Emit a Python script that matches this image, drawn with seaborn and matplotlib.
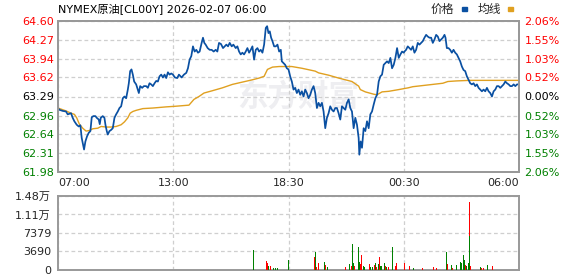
import numpy as np
import pandas as pd
import matplotlib
matplotlib.use("Agg")
import matplotlib.pyplot as plt
from matplotlib.patches import Rectangle
import seaborn as sns

# ---------------- data ----------------
title = "NYMEX原油[CL00Y] 2026-02-07 06:00"
time_labels = ["07:00", "13:00", "18:30", "00:30", "06:00"]
time_ticks = [0, 345, 690, 1035, 1380]

price_ticks = [61.98, 62.31, 62.64, 62.96, 63.29, 63.62, 63.94, 64.27, 64.60]
price_labels = ["61.98", "62.31", "62.64", "62.96", "63.29", "63.62", "63.94", "64.27", "64.60"]
pct_labels = ["2.06%", "1.55%", "1.03%", "0.52%", "0.00%", "0.52%", "1.03%", "1.55%", "2.06%"]
prev_close = 63.29

vol_ticks = [0, 3690, 7379, 11069, 14758]
vol_labels = ["0", "3690", "7379", "1.11万", "1.48万"]

price_min = [
    0, 4, 14, 24, 29, 39, 44, 49, 56, 62,
    67, 71, 74, 78, 82, 87, 92, 97, 101, 106,
    112, 116, 122, 125, 128, 134, 139, 142, 146, 149,
    154, 159, 164, 169, 174, 179, 184, 189, 194, 199,
    204, 209, 212, 216, 220, 224, 228, 234, 239, 242,
    246, 252, 257, 264, 269, 274, 279, 284, 289, 294,
    299, 304, 309, 314, 319, 324, 329, 334, 339, 344,
    350, 357, 362, 370, 377, 384, 389, 394, 399, 404,
    409, 414, 419, 424, 430, 434, 438, 442, 448, 454,
    460, 466, 472, 477, 482, 488, 494, 499, 504, 509,
    514, 520, 525, 532, 537, 542, 547, 552, 557, 562,
    567, 572, 577, 582, 587, 592, 597, 602, 607, 612,
    617, 622, 626, 630, 634, 638, 642, 647, 652, 657,
    662, 667, 670, 675, 680, 685, 690, 695, 700, 705,
    710, 715, 720, 725, 730, 735, 740, 745, 750, 755,
    760, 765, 770, 775, 780, 785, 790, 795, 800, 805,
    810, 815, 820, 825, 830, 835, 840, 845, 850, 855,
    860, 865, 870, 875, 880, 885, 890, 895, 900, 902,
    906, 910, 915, 920, 925, 930, 935, 940, 945, 950,
    955, 960, 965, 970, 975, 980, 985, 990, 995, 1000,
    1005, 1010, 1015, 1020, 1025, 1030, 1035, 1037, 1042, 1047,
    1052, 1057, 1062, 1067, 1072, 1077, 1082, 1087, 1092, 1097,
    1102, 1107, 1112, 1117, 1122, 1127, 1132, 1137, 1142, 1147,
    1152, 1157, 1160, 1164, 1169, 1174, 1179, 1184, 1189, 1194,
    1199, 1204, 1209, 1214, 1219, 1224, 1229, 1234, 1239, 1244,
    1249, 1254, 1259, 1264, 1269, 1274, 1279, 1284, 1289, 1294,
    1299, 1304, 1309, 1314, 1319, 1324, 1329, 1334, 1339, 1344,
    1349, 1354, 1359, 1364, 1369, 1374, 1380,
]
price_val = [
    63.09, 63.06, 63.04, 63.03, 62.98, 63.00, 62.92, 62.86, 62.80, 62.77,
    62.79, 62.57, 62.48, 62.37, 62.51, 62.60, 62.66, 62.69, 62.93, 62.95,
    62.95, 62.92, 62.89, 62.81, 62.92, 62.95, 62.92, 62.80, 62.69, 62.63,
    62.69, 62.71, 62.74, 62.92, 62.98, 63.03, 63.09, 63.12, 63.26, 63.29,
    63.26, 63.41, 63.52, 63.73, 63.76, 63.67, 63.55, 63.50, 63.41, 63.35,
    63.47, 63.44, 63.47, 63.47, 63.44, 63.52, 63.50, 63.47, 63.52, 63.56,
    63.55, 63.64, 63.67, 63.62, 63.67, 63.61, 63.71, 63.67, 63.69, 63.67,
    63.62, 63.61, 63.67, 63.62, 63.67, 63.70, 63.78, 63.93, 63.99, 64.16,
    64.07, 64.10, 64.05, 64.07, 64.22, 64.31, 64.22, 64.19, 64.13, 64.10,
    64.10, 64.07, 64.10, 64.07, 64.22, 64.20, 64.13, 64.16, 64.19, 64.16,
    64.22, 64.16, 64.19, 64.13, 64.16, 64.07, 64.02, 64.05, 64.02, 64.07,
    64.13, 64.05, 64.10, 64.16, 63.93, 64.10, 64.13, 64.07, 64.10, 64.05,
    64.19, 64.48, 64.51, 64.39, 64.42, 64.31, 64.25, 64.16, 64.16, 64.19,
    64.07, 64.10, 63.90, 63.87, 63.84, 63.78, 63.76, 63.64, 63.55, 63.41,
    63.44, 63.35, 63.41, 63.32, 63.38, 63.29, 63.41, 63.35, 63.26, 63.32,
    63.41, 63.47, 63.35, 63.09, 63.18, 63.12, 63.18, 63.03, 62.74, 62.92,
    63.00, 63.12, 63.06, 63.03, 63.09, 63.09, 63.00, 62.89, 63.12, 63.09,
    63.06, 63.18, 63.24, 63.09, 63.03, 62.74, 62.92, 62.80, 62.57, 62.28,
    62.51, 62.40, 62.74, 62.69, 62.86, 62.74, 62.98, 63.03, 63.15, 63.26,
    63.32, 63.55, 63.64, 63.67, 63.84, 63.87, 63.90, 63.87, 63.96, 63.78,
    63.84, 63.96, 64.13, 63.96, 64.02, 64.07, 64.05, 64.07, 64.10, 64.16,
    64.13, 64.10, 64.16, 64.05, 64.10, 64.22, 64.19, 64.22, 64.25, 64.31,
    64.36, 64.33, 64.31, 64.31, 64.22, 64.28, 64.36, 64.33, 64.25, 64.28,
    64.31, 64.36, 64.31, 64.13, 64.13, 64.10, 64.05, 64.10, 64.05, 64.02,
    63.96, 63.90, 63.81, 63.75, 63.73, 63.64, 63.58, 63.52, 63.50, 63.52,
    63.47, 63.50, 63.44, 63.41, 63.38, 63.41, 63.38, 63.44, 63.38, 63.35,
    63.29, 63.38, 63.41, 63.47, 63.47, 63.44, 63.47, 63.50, 63.55, 63.52,
    63.50, 63.47, 63.47, 63.50, 63.47, 63.50, 63.50,
]

avg_min = [
    0, 24, 39, 49, 56, 64, 74, 84, 94, 104,
    119, 129, 144, 159, 174, 189, 199, 209, 216, 224,
    234, 254, 284, 304, 324, 350, 392, 407, 422, 437,
    462, 492, 522, 552, 582, 602, 617, 627, 642, 662,
    700, 730, 770, 780, 810, 840, 880, 900, 905, 920,
    945, 955, 970, 990, 1020, 1048, 1062, 1092, 1122, 1152,
    1167, 1192, 1232, 1380,
]
avg_val = [
    63.09, 63.04, 63.00, 62.98, 62.92, 62.81, 62.74, 62.69, 62.70, 62.73,
    62.74, 62.77, 62.76, 62.76, 62.77, 62.80, 62.85, 62.92, 63.00, 63.03,
    63.05, 63.08, 63.09, 63.10, 63.11, 63.12, 63.14, 63.24, 63.29, 63.35,
    63.39, 63.44, 63.50, 63.54, 63.58, 63.61, 63.64, 63.76, 63.80, 63.81,
    63.81, 63.78, 63.73, 63.70, 63.66, 63.61, 63.55, 63.47, 63.41, 63.37,
    63.33, 63.32, 63.37, 63.38, 63.41, 63.44, 63.46, 63.48, 63.50, 63.52,
    63.55, 63.56, 63.57, 63.57,
]

vol_min = [
    586, 623, 626, 631, 636, 646, 651, 656, 691, 769,
    772, 775, 781, 799, 801, 808, 862, 873, 879, 883,
    886, 889, 901, 903, 906, 910, 914, 918, 931, 936,
    940, 946, 949, 953, 959, 961, 964, 968, 976, 979,
    983, 989, 1000, 1011, 1014, 1038, 1052, 1063, 1091, 1123,
    1132, 1164, 1166, 1178, 1181, 1192, 1206, 1209, 1213, 1216,
    1219, 1223, 1228, 1231, 1232, 1234, 1264, 1268, 1273, 1285,
    1300,
]
vol_val = [
    3900, 1800, 1300, 700, 700, 300, 300, 300, 2000, 2600,
    3600, 600, 1450, 1600, 1000, 600, 600, 1200, 800, 5200,
    1400, 700, 4600, 1600, 1200, 3000, 800, 500, 1200, 500,
    500, 1000, 1400, 500, 1200, 2600, 800, 800, 1400, 700,
    500, 500, 4600, 800, 1400, 1400, 800, 400, 400, 500,
    400, 3600, 1200, 1000, 400, 1000, 1600, 1300, 3000, 2000,
    1000, 800, 1400, 13500, 6800, 800, 500, 400, 400, 1000,
    800,
]
vol_dir = [
    "dn", "up", "up", "dn", "up", "dn", "dn", "dn", "dn", "up",
    "dn", "up", "up", "dn", "up", "dn", "up", "dn", "up", "dn",
    "dn", "up", "dn", "dn", "up", "up", "dn", "dn", "up", "dn",
    "dn", "up", "dn", "up", "dn", "up", "dn", "dn", "dn", "up",
    "dn", "up", "dn", "up", "up", "up", "up", "dn", "up", "up",
    "up", "dn", "up", "dn", "up", "dn", "dn", "dn", "dn", "dn",
    "up", "dn", "dn", "up", "dn", "up", "dn", "up", "up", "dn",
    "up",
]

# ---------------- style ----------------
BLUE = "#0a50a2"
ORANGE = "#e0a020"
RED = "#ff0000"
GREEN = "#008000"
GRID = "#cfcfcf"
SPINE = "#999999"

sns.set_style("white")
plt.rcParams["font.family"] = ["DejaVu Sans", "Noto Sans CJK SC"]

W, H = 578, 276
fig = plt.figure(figsize=(W / 100, H / 100), dpi=100)
ax = fig.add_axes([58 / W, (H - 172) / H, 461 / W, 151 / H])
axv = fig.add_axes([58 / W, (H - 270) / H, 461 / W, 74 / H])

df_p = pd.DataFrame({"minute": price_min, "price": price_val})
df_a = pd.DataFrame({"minute": avg_min, "avg": avg_val})

# watermark
ax.text(0.52, 0.50, "东方财富", transform=ax.transAxes, ha="center", va="center",
        fontsize=22, fontweight="bold", color="#eeeef1", zorder=0,
        family=["Noto Sans CJK SC"])

sns.lineplot(data=df_a, x="minute", y="avg", ax=ax, color=ORANGE, lw=1.0,
             estimator=None, sort=False, zorder=3)
sns.lineplot(data=df_p, x="minute", y="price", ax=ax, color=BLUE, lw=1.25,
             estimator=None, sort=False, zorder=4)

ax.set_xlim(time_ticks[0], time_ticks[-1])
ax.set_ylim(price_ticks[0], price_ticks[-1])
ax.set_xlabel("")
ax.set_ylabel("")
ax.set_xticks(time_ticks)
ax.set_xticklabels(time_labels)
ax.set_yticks(price_ticks)
ax.set_yticklabels(price_labels)
ax.tick_params(axis="both", length=0, labelsize=8)
ax.tick_params(axis="y", pad=3)
ax.tick_params(axis="x", pad=4)
xl = ax.get_xticklabels()
xl[0].set_ha("left")
xl[-1].set_ha("right")

def lab_color(v):
    if abs(v - prev_close) < 1e-6:
        return "black"
    return RED if v > prev_close else GREEN

for lab, v in zip(ax.get_yticklabels(), price_ticks):
    lab.set_color(lab_color(v))

ax.grid(True, ls=(0, (3, 2.2)), color=GRID, lw=0.9)
ax.set_axisbelow(True)
for s in ax.spines.values():
    s.set_color(SPINE)
    s.set_linewidth(1.4)

ax2 = ax.twinx()
ax2.set_ylim(price_ticks[0], price_ticks[-1])
ax2.set_yticks(price_ticks)
ax2.set_yticklabels(pct_labels)
ax2.tick_params(axis="y", length=0, labelsize=8, pad=4)
ax2.grid(False)
for lab, v in zip(ax2.get_yticklabels(), price_ticks):
    lab.set_color(lab_color(v))
for s in ax2.spines.values():
    s.set_color(SPINE)
    s.set_linewidth(1.4)

# volume
colors = [RED if d == "up" else GREEN for d in vol_dir]
axv.bar(vol_min, vol_val, width=3.0, color=colors, linewidth=0, zorder=3)
axv.set_xlim(time_ticks[0], time_ticks[-1])
axv.set_ylim(vol_ticks[0], vol_ticks[-1])
axv.set_xticks(time_ticks)
axv.set_xticklabels([])
axv.set_yticks(vol_ticks)
axv.set_yticklabels(vol_labels)
axv.tick_params(axis="both", length=0, labelsize=8)
axv.tick_params(axis="y", pad=5)
axv.grid(True, ls=(0, (3, 2.2)), color=GRID, lw=0.9)
axv.set_axisbelow(True)
for s in axv.spines.values():
    s.set_color(SPINE)
    s.set_linewidth(1.4)

# title and legend
fig.text(58 / W, 1 - 9 / H, title, ha="left", va="center", fontsize=8,
         color="black", family=["DejaVu Sans", "Noto Sans CJK SC"])
fig.text(454 / W, 1 - 9 / H, "价格", ha="right", va="center", fontsize=8.5,
         family=["Noto Sans CJK SC"])
fig.add_artist(Rectangle((462 / W, 1 - 10.5 / H), 5 / W, 3 / H,
                         transform=fig.transFigure, color=BLUE))
fig.text(501 / W, 1 - 9 / H, "均线", ha="right", va="center", fontsize=8.5,
         family=["Noto Sans CJK SC"])
fig.add_artist(Rectangle((508 / W, 1 - 10.5 / H), 5 / W, 3 / H,
                         transform=fig.transFigure, color=ORANGE))

fig.savefig("out.png", dpi=100)
